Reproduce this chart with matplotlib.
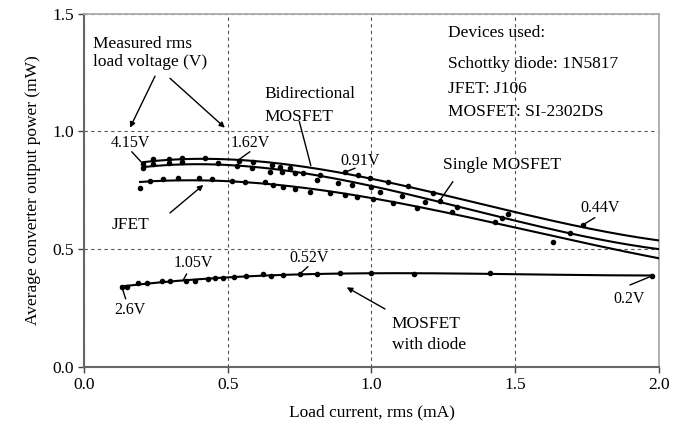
import matplotlib
matplotlib.use('Agg')
import matplotlib.pyplot as plt
import numpy as np

plt.rcParams['font.family'] = ['Liberation Serif', 'DejaVu Serif']

# measured points
bidir_x = [0.206, 0.241, 0.297, 0.340, 0.421, 0.540, 0.589, 0.653, 0.682, 0.717,
           0.821, 0.908, 0.954, 0.995, 1.058, 1.128, 1.215, 1.476, 1.735]
bidir_y = [0.862, 0.882, 0.882, 0.885, 0.888, 0.875, 0.871, 0.857, 0.850, 0.843,
           0.814, 0.826, 0.814, 0.800, 0.786, 0.768, 0.737, 0.650, 0.602]

single_x = [0.206, 0.241, 0.297, 0.340, 0.467, 0.531, 0.583, 0.647, 0.688, 0.734,
            0.763, 0.809, 0.885, 0.932, 1.000, 1.029, 1.105, 1.186, 1.238, 1.296,
            1.453, 1.690]
single_y = [0.843, 0.860, 0.864, 0.868, 0.864, 0.853, 0.843, 0.828, 0.828, 0.822,
            0.822, 0.793, 0.779, 0.772, 0.765, 0.743, 0.725, 0.701, 0.705, 0.677,
            0.630, 0.569]

jfet_x = [0.195, 0.230, 0.276, 0.328, 0.401, 0.444, 0.514, 0.560, 0.630, 0.658,
          0.691, 0.734, 0.786, 0.856, 0.908, 0.948, 1.006, 1.076, 1.157, 1.279,
          1.428, 1.630]
jfet_y = [0.758, 0.789, 0.796, 0.800, 0.800, 0.796, 0.790, 0.786, 0.786, 0.772,
          0.765, 0.755, 0.743, 0.737, 0.730, 0.720, 0.711, 0.694, 0.672, 0.659,
          0.614, 0.531]

diode_x = [0.131, 0.148, 0.189, 0.218, 0.270, 0.299, 0.355, 0.386, 0.433, 0.456,
           0.485, 0.522, 0.563, 0.621, 0.650, 0.693, 0.751, 0.809, 0.890, 0.998,
           1.148, 1.412, 1.975]
diode_y = [0.340, 0.337, 0.354, 0.354, 0.365, 0.364, 0.364, 0.365, 0.372, 0.375,
           0.378, 0.382, 0.387, 0.392, 0.385, 0.388, 0.392, 0.392, 0.397, 0.399,
           0.392, 0.397, 0.387]

# trend lines as drawn in the figure (read at a few x positions)
trend_x = [0.2, 0.4, 0.6, 0.8, 1.0, 1.2, 1.4, 1.6, 1.8, 2.0]
bidir_trend = [0.866, 0.886, 0.873, 0.840, 0.802, 0.743, 0.680, 0.630, 0.582, 0.533]
single_trend = [0.843, 0.866, 0.850, 0.812, 0.765, 0.710, 0.648, 0.594, 0.543, 0.496]
jfet_trend = [0.779, 0.800, 0.785, 0.750, 0.711, 0.666, 0.620, 0.568, 0.513, 0.457]

fig = plt.figure(figsize=(6.87, 4.32), dpi=100)
ax = fig.add_axes([0.1223, 0.1512, 0.8369, 0.8175])

# 趋势线
for xs, tr in [(bidir_x, bidir_trend), (single_x, single_trend), (jfet_x, jfet_trend)]:
    c = np.polyfit(trend_x, tr, 3)
    xx = np.linspace(xs[0], trend_x[-1], 200)
    ax.plot(xx, np.polyval(c, xx), color='black', lw=1.5, zorder=3)

c = np.polyfit(diode_x, diode_y, 3)
xx = np.linspace(diode_x[0], diode_x[-1], 200)
ax.plot(xx, np.polyval(c, xx), color='black', lw=1.5, zorder=3)

# 测量点
for xs, ys in [(bidir_x, bidir_y), (single_x, single_y), (jfet_x, jfet_y), (diode_x, diode_y)]:
    ax.plot(xs, ys, 'o', color='black', ms=3.0, zorder=4)

ax.set_xlim(0, 2.0)
ax.set_ylim(0, 1.5)
ax.set_xticks([0, 0.5, 1.0, 1.5, 2.0])
ax.set_yticks([0, 0.5, 1.0, 1.5])
ax.set_xticklabels(['0.0', '0.5', '1.0', '1.5', '2.0'])
ax.set_yticklabels(['0.0', '0.5', '1.0', '1.5'])
ax.tick_params(direction='out', length=4, width=1, labelsize=12.5, colors='#444', labelcolor='black')
ax.grid(True, linestyle=(0, (3, 3)), color='#555', lw=0.8)
for s in ['left', 'bottom']:
    ax.spines[s].set_color('#666')
    ax.spines[s].set_linewidth(1.5)
for s in ['top', 'right']:
    ax.spines[s].set_color('#aaa')
    ax.spines[s].set_linewidth(1.3)

ax.set_xlabel('Load current, rms (mA)', fontsize=12.5, labelpad=8)
ax.set_ylabel('Average converter output power (mW)', fontsize=12.5, labelpad=8)

fs = 12.5
# 文字标注
ax.text(1.266, 1.402, 'Devices used:', fontsize=fs, va='baseline')
ax.text(1.266, 1.268, 'Schottky diode: 1N5817', fontsize=fs, va='baseline')
ax.text(1.266, 1.163, 'JFET: J106', fontsize=fs, va='baseline')
ax.text(1.266, 1.064, 'MOSFET: SI-2302DS', fontsize=fs, va='baseline')

ax.text(0.031, 1.355, 'Measured rms', fontsize=fs, va='baseline')
ax.text(0.031, 1.277, 'load voltage (V)', fontsize=fs, va='baseline')
ax.text(0.626, 1.140, 'Bidirectional', fontsize=fs, va='baseline')
ax.text(0.626, 1.045, 'MOSFET', fontsize=fs, va='baseline')
ax.text(1.071, 0.163, 'MOSFET', fontsize=fs, va='baseline')
ax.text(1.071, 0.074, 'with diode', fontsize=fs, va='baseline')
ax.text(1.454, 0.857, 'Single MOSFET', fontsize=fs, ha='center', va='center')
ax.text(0.160, 0.602, 'JFET', fontsize=fs, ha='center', va='center')

vs = 11.5
for txt, pos in [('4.15V', (0.16, 0.950)), ('1.62V', (0.577, 0.950)),
                 ('0.91V', (0.96, 0.874)), ('0.44V', (1.795, 0.674)),
                 ('1.05V', (0.379, 0.440)), ('0.52V', (0.783, 0.462)),
                 ('2.6V', (0.16, 0.241)), ('0.2V', (1.896, 0.288))]:
    ax.text(pos[0], pos[1], txt, fontsize=vs, ha='center', va='center')

# 引线
lines = [((0.166, 0.913), (0.200, 0.868)), ((0.577, 0.913), (0.537, 0.878)),
         ((0.943, 0.843), (0.908, 0.826)), ((1.777, 0.633), (1.735, 0.602)),
         ((0.357, 0.394), (0.345, 0.368)), ((0.779, 0.425), (0.751, 0.394)),
         ((0.145, 0.288), (0.133, 0.333)), ((1.899, 0.347), (1.975, 0.385)),
         ((0.749, 1.041), (0.789, 0.854)), ((1.283, 0.786), (1.235, 0.701))]
for a, b in lines:
    ax.annotate('', xy=b, xytext=a,
                arrowprops=dict(arrowstyle='-', color='black', lw=1.0, shrinkA=0, shrinkB=0))

arrows = [((0.247, 1.234), (0.160, 1.015)), ((0.299, 1.225), (0.490, 1.015)),
          ((0.299, 0.653), (0.415, 0.772)), ((1.047, 0.245), (0.914, 0.337))]
for a, b in arrows:
    ax.annotate('', xy=b, xytext=a,
                arrowprops=dict(arrowstyle='-|>', color='black', lw=1.0,
                                mutation_scale=8, shrinkA=0, shrinkB=0))

fig.savefig('out.png', dpi=100)
